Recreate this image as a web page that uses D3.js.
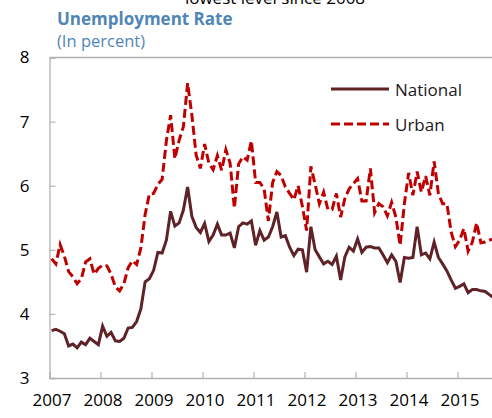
<!DOCTYPE html>
<html><head><meta charset="utf-8">
<script src="https://cdn.jsdelivr.net/npm/d3@7"></script>
<style>
body{margin:0;background:#fff;}
svg{display:block;font-family:"Open Sans",sans-serif;}
</style></head>
<body>
<svg id="c" width="492" height="418"></svg>
<script>
const years = ["2007","2008","2009","2010","2011","2012","2013","2014","2015"];
const yTicks = [3,4,5,6,7,8];
const seriesNames = ["National","Urban"];
// monthly values, Jan 2007 onward
const national = [
 3.74,3.76,3.73,3.69,3.50,3.53,3.47,3.56,3.52,3.62,3.57,3.52,
 3.81,3.65,3.71,3.58,3.57,3.62,3.78,3.79,3.88,4.08,4.50,4.55,
 4.68,4.96,4.95,5.15,5.60,5.37,5.42,5.62,5.98,5.52,5.35,5.27,
 5.41,5.13,5.23,5.40,5.23,5.23,5.26,5.03,5.36,5.42,5.40,5.45,
 5.07,5.30,5.15,5.20,5.36,5.59,5.20,5.22,5.04,4.91,5.01,5.00,
 4.65,5.36,5.00,4.89,4.78,4.82,4.77,4.90,4.53,4.89,5.04,4.98,
 5.17,4.96,5.04,5.05,5.03,5.03,4.92,4.80,4.92,4.82,4.49,4.88,
 4.87,4.88,5.36,4.92,4.95,4.86,5.12,4.88,4.78,4.67,4.53,4.40,
 4.43,4.47,4.33,4.38,4.38,4.36,4.35,4.30,4.25
];
const urban = [
 4.86,4.78,5.08,4.90,4.66,4.58,4.47,4.55,4.81,4.86,4.62,4.71,
 4.76,4.75,4.62,4.42,4.36,4.47,4.72,4.83,4.77,5.03,5.55,5.87,
 5.88,6.02,6.10,6.70,7.10,6.42,6.71,6.92,7.60,7.10,6.48,6.27,
 6.65,6.35,6.25,6.47,6.24,6.56,6.35,5.65,6.34,6.45,6.40,6.70,
 6.05,6.05,5.95,5.45,6.05,6.22,6.16,5.98,5.88,5.78,6.00,5.68,
 5.30,6.30,6.02,5.72,5.90,5.63,5.63,5.88,5.51,5.80,5.95,6.03,
 6.11,5.76,5.76,6.27,5.58,5.72,5.67,5.53,5.74,5.51,5.07,5.72,
 6.20,5.85,6.22,5.90,6.15,5.85,6.38,5.88,5.72,5.72,5.28,5.05,
 5.15,5.33,4.98,5.12,5.42,5.11,5.12,5.15,5.17
];

const svg = d3.select("#c");
const L = 49.5, T = 57.5, B = 378, monthW = 51/12;
const x = d3.scaleLinear().domain([0,108]).range([L, L + 108*monthW]);
const y = d3.scaleLinear().domain([3,8]).range([B, T]);
const gray = "#b3b3b3";

svg.append("defs").append("clipPath").attr("id","clip")
  .append("rect").attr("x",L).attr("y",0).attr("width",492-L).attr("height",B);

// top cut-off text
svg.append("text").attr("x",275).attr("y",4).attr("text-anchor","middle")
  .attr("font-size",17).attr("fill","#000").text("lowest level since 2008");

// titles
svg.append("text").attr("x",57).attr("y",25).attr("font-size",17).attr("font-weight","bold")
  .attr("fill","#4f86b6").text("Unemployment Rate");
svg.append("text").attr("x",57).attr("y",47).attr("font-size",16.5)
  .attr("fill","#4f86b6").text("(In percent)");

// frame top
svg.append("line").attr("x1",L).attr("x2",492).attr("y1",T).attr("y2",T)
  .attr("stroke",gray).attr("stroke-width",1.3);

// y axis
const ya = svg.append("g").attr("transform",`translate(${L},0)`)
  .call(d3.axisLeft(y).tickValues(yTicks).tickSize(-6).tickPadding(20).tickFormat(d3.format("d")));
ya.select(".domain").attr("stroke",gray).attr("stroke-width",1.3);
ya.selectAll(".tick line").attr("stroke",gray).attr("stroke-width",1.2);
ya.selectAll(".tick text").attr("font-size",17).attr("font-family","Open Sans").attr("fill","#000");

// x axis
const xa = svg.append("g").attr("transform",`translate(0,${B})`)
  .call(d3.axisBottom(x).tickValues(d3.range(0,108,12)).tickSize(-6).tickPadding(16)
    .tickFormat((d,i)=>years[i]));
xa.select(".domain").attr("stroke",gray).attr("stroke-width",1.3);
xa.selectAll(".tick line").attr("stroke",gray).attr("stroke-width",1.2);
xa.selectAll(".tick text").attr("font-size",17).attr("font-family","Open Sans").attr("fill","#000").attr("dx",2);

// lines
const line = d3.line().x((d,i)=>x(i+0.5)).y(d=>y(d));
const g = svg.append("g").attr("clip-path","url(#clip)");
g.append("path").datum(urban).attr("d",line).attr("fill","none")
  .attr("stroke","#c00000").attr("stroke-width",3).attr("stroke-dasharray","9,4");
g.append("path").datum(national).attr("d",line).attr("fill","none")
  .attr("stroke","#5e2227").attr("stroke-width",3);

// legend
const leg = [{name:seriesNames[0],y:89,dash:null,color:"#5e2227"},
             {name:seriesNames[1],y:124,dash:"9,4",color:"#c00000"}];
leg.forEach(l=>{
  svg.append("line").attr("x1",331).attr("x2",389).attr("y1",l.y).attr("y2",l.y)
    .attr("stroke",l.color).attr("stroke-width",3).attr("stroke-dasharray",l.dash);
  svg.append("text").attr("x",395).attr("y",l.y+7).attr("font-size",17).attr("fill","#1a1a1a").text(l.name);
});
</script>
</body></html>
